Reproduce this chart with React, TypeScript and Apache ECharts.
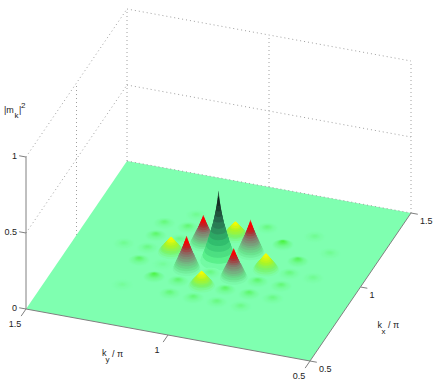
import React, { useEffect, useRef } from "react";
import * as echarts from "echarts";

// axis ticks
const kxTicks = [0.5, 1, 1.5];
const kyTicks = [0.5, 1, 1.5];
const zTicks = [0, 0.5, 1];
const kxTickLabels = ["0.5", "1", "1.5"];
const kyTickLabels = ["0.5", "1", "1.5"];
const zTickLabels = ["0", "0.5", "1"];

// peaks of |m_k|^2
const peakKx = [
  1, 1.083, 1.083, 0.917, 0.917, 1.167, 0.833, 1, 1,
  1.167, 1.167, 1.083, 1, 1, 0.917, 0.833, 0.833, 0.75, 0.75, 0.75, 0.75,
  0.833, 0.833, 0.833, 0.917, 0.917, 1, 1, 1.083, 1.167, 1.25, 1.25, 1.167,
  0.917, 1.25, 0.75, 0.917, 1.083,
];
const peakKy = [
  1, 1.083, 0.917, 1.083, 0.917, 1, 1, 1.167, 0.833,
  1.25, 1.167, 1.25, 1.25, 1.333, 1.25, 1.167, 1.083, 1.083, 1, 0.917, 0.833,
  0.917, 0.833, 0.75, 0.833, 0.75, 0.75, 0.667, 0.75, 0.833, 0.917, 0.75, 0.667,
  1, 1.167, 1.25, 1.167, 1.167,
];
const peakZ = [
  0.5, 0.2, 0.225, 0.225, 0.2, 0.1, 0.1, 0.105, 0.11,
  0.012, 0.014, 0.016, 0.01, 0.007, 0.017, 0.024, 0.015, 0.013, 0.013, 0.011, 0.009,
  0.017, 0.016, 0.01, 0.016, 0.013, 0.011, 0.007, 0.021, 0.026, 0.011, 0.007, 0.007,
  0.011, 0.007, 0.005, 0.005, 0.01,
];

// projection of (kx, ky, z) on the page
const origin = [310, 361];
const kxVector = [101, -148];
const kyVector = [-284, -52];
const zPixels = 152;
const project = (kx: number, ky: number, z: number) => [
  origin[0] + (kx - 0.5) * kxVector[0] + (ky - 0.5) * kyVector[0],
  origin[1] + (kx - 0.5) * kxVector[1] + (ky - 0.5) * kyVector[1] - z * zPixels,
];

const FLOOR: number[] = [127, 255, 176];
type Stop = [number, number[]];
const mixStops = (stops: Stop[], f: number) => {
  for (let i = 1; i < stops.length; i++) {
    if (f <= stops[i][0]) {
      const [a, ca] = stops[i - 1];
      const [b, cb] = stops[i];
      const t = (f - a) / (b - a);
      const c = ca.map((v, j) => Math.round(v + (cb[j] - v) * t));
      return `rgb(${c[0]},${c[1]},${c[2]})`;
    }
  }
  const c = stops[stops.length - 1][1];
  return `rgb(${c[0]},${c[1]},${c[2]})`;
};

const toneFor = (z: number) => {
  if (z >= 0.4)
    return {
      bands: 15, radius: 0.06, power: 1.7,
      stops: [[0, FLOOR], [0.1, [90, 240, 140]], [0.3, [50, 190, 110]], [0.55, [40, 110, 80]], [0.75, [25, 50, 40]], [1, [0, 0, 0]]] as Stop[],
    };
  if (z >= 0.17)
    return {
      bands: 18, radius: 0.046, power: 1.2,
      stops: [[0, FLOOR], [0.15, [105, 225, 140]], [0.35, [120, 165, 125]], [0.5, [135, 115, 105]], [0.65, [175, 45, 50]], [0.8, [250, 0, 0]], [1, [255, 0, 0]]] as Stop[],
    };
  if (z >= 0.08)
    return {
      bands: 12, radius: 0.044, power: 1,
      stops: [[0, FLOOR], [0.25, [120, 245, 110]], [0.55, [170, 245, 40]], [0.85, [240, 250, 5]], [1, [255, 255, 0]]] as Stop[],
    };
  const s = Math.min(1, z / 0.034);
  const top = FLOOR.map((v, j) => v + ([55, 238, 25][j] - v) * s);
  const mid = FLOOR.map((v, j) => v + (top[j] - v) * 0.3);
  return { bands: 10, radius: 0.036, power: 0.9, stops: [[0, FLOOR], [0.5, mid], [1, top]] as Stop[] };
};

const peakRows = peakKx
  .map((kx, i) => [kx, peakKy[i], peakZ[i]])
  .sort((a, b) => project(a[0], a[1], 0)[1] - project(b[0], b[1], 0)[1]);

type Seg = number[];
const lo = kxTicks[0];
const hi = kxTicks[kxTicks.length - 1];
const zTop = zTicks[zTicks.length - 1];
const dottedSegs: Seg[] = [
  ...zTicks.filter((z) => z > 0).map((z) => [lo, hi, z, hi, hi, z]),
  ...zTicks.map((z) => [hi, hi, z, hi, lo, z]),
  ...kxTicks.slice(1).map((kx) => [kx, hi, 0, kx, hi, zTop]),
  ...kyTicks.slice(0, -1).map((ky) => [hi, ky, 0, hi, ky, zTop]),
];
const solidSegs: Seg[] = [
  [lo, hi, 0, lo, hi, zTop],
  [lo, lo, 0, hi, lo, 0],
  [lo, lo, 0, lo, hi, 0],
  ...zTicks.map((z) => [lo, hi, z, lo, hi + 0.024, z]),
  ...kxTicks.map((kx) => [kx, lo, 0, kx, lo - 0.024, 0]),
  ...kyTicks.map((ky) => [lo, ky, 0, lo - 0.048, ky, 0]),
];

const FONT = "Liberation Sans, Arial, sans-serif";
const tickTexts = [
  ...zTicks.map((z, i) => {
    const p = project(lo, hi, z);
    return { t: zTickLabels[i], x: p[0] - 9, y: p[1] - 1, align: "right" };
  }),
  ...kyTicks.map((ky, i) => {
    const p = project(lo, ky, 0);
    return { t: kyTickLabels[i], x: p[0] - 11, y: p[1] + 15, align: "center" };
  }),
  ...kxTicks.map((kx, i) => {
    const p = project(kx, lo, 0);
    return { t: kxTickLabels[i], x: p[0] + 9, y: p[1] + 8, align: "left" };
  }),
];
const titleTexts = [
  { t: "k", x: 102, y: 353, size: 9 },
  { t: "y", x: 105.5, y: 359, size: 8 },
  { t: "/ π", x: 112, y: 354, size: 9 },
  { t: "k", x: 377.5, y: 325, size: 9 },
  { t: "x", x: 381.5, y: 331, size: 8 },
  { t: "/ π", x: 388, y: 325, size: 9 },
  { t: "|m", x: 4, y: 110, size: 9 },
  { t: "k", x: 14.5, y: 115.5, size: 8 },
  { t: "|", x: 19, y: 110, size: 9 },
  { t: "2", x: 21, y: 105, size: 8 },
];

const lineItem = (stroke: string, dash?: number[]) => (_: any, api: any) => {
  const a = api.coord(project(api.value(0), api.value(1), api.value(2)));
  const b = api.coord(project(api.value(3), api.value(4), api.value(5)));
  return {
    type: "line",
    shape: { x1: a[0], y1: a[1], x2: b[0], y2: b[1] },
    style: { stroke, lineWidth: 1, lineDash: dash, fill: null },
  };
};

const floorItem = (_: any, api: any) => ({
  type: "polygon",
  shape: {
    points: [
      [lo, lo], [hi, lo], [hi, hi], [lo, hi],
    ].map(([kx, ky]) => api.coord(project(kx, ky, 0))),
  },
  style: { fill: `rgb(${FLOOR.join(",")})` },
});

const peakItem = (_: any, api: any) => {
  const kx = api.value(0);
  const ky = api.value(1);
  const z = api.value(2);
  const tone = toneFor(z);
  const children: any[] = [];
  // thin slices so that the cone is closed; colour changes band by band
  const slices = Math.max(tone.bands, Math.ceil(z * zPixels * 2));
  for (let b = 0; b < slices; b++) {
    const f = b / slices;
    const r = tone.radius * Math.pow(1 - f, tone.power);
    const pts: number[][] = [];
    for (let k = 0; k < 24; k++) {
      const th = (k / 24) * Math.PI * 2;
      pts.push(api.coord(project(kx + r * Math.cos(th), ky + r * Math.sin(th), z * f)));
    }
    const band = Math.floor(f * tone.bands);
    children.push({
      type: "polygon",
      shape: { points: pts },
      style: { fill: mixStops(tone.stops, (band + 0.5) / tone.bands) },
    });
  }
  return { type: "group", children };
};

const tickTextItem = (params: any, api: any) => {
  const row = tickTexts[params.dataIndex];
  const p = api.coord([row.x, row.y]);
  return {
    type: "text",
    style: { text: row.t, x: p[0], y: p[1], font: `9px ${FONT}`, fill: "#222", align: row.align, verticalAlign: "middle" },
  };
};

const titleTextItem = (params: any, api: any) => {
  const row = titleTexts[params.dataIndex];
  const p = api.coord([row.x, row.y]);
  return {
    type: "text",
    style: { text: row.t, x: p[0], y: p[1], font: `${row.size}px ${FONT}`, fill: "#222", align: "left", verticalAlign: "middle" },
  };
};

const custom = (name: string, z: number, data: any[], renderItem: any) => ({
  type: "custom",
  name,
  z,
  silent: true,
  clip: false,
  coordinateSystem: "cartesian2d",
  data,
  renderItem,
});

export default function App() {
  const ref = useRef<HTMLDivElement>(null);
  useEffect(() => {
    document.body.style.margin = "0";
    const chart = echarts.init(ref.current!, undefined, { renderer: "svg" });
    chart.setOption({
      animation: false,
      backgroundColor: "#fff",
      grid: { left: 0, right: 0, top: 0, bottom: 0 },
      xAxis: { type: "value", min: 0, max: 436, show: false },
      yAxis: { type: "value", min: 0, max: 382, inverse: true, show: false },
      tooltip: { show: false },
      series: [
        custom("walls", 1, dottedSegs.filter((s) => s[2] !== 0 || s[5] !== 0), lineItem("#a0a0a0", [1, 3])),
        custom("floor", 2, [[0]], floorItem),
        custom("floor edge", 3, dottedSegs.filter((s) => s[2] === 0 && s[5] === 0), lineItem("#a0a0a0", [1, 3])),
        custom("|m_k|^2", 4, peakRows, peakItem),
        custom("axes", 5, solidSegs, lineItem("#808080")),
        custom("tick labels", 6, tickTexts.map((_, i) => [i]), tickTextItem),
        custom("axis titles", 6, titleTexts.map((_, i) => [i]), titleTextItem),
      ],
    });
    return () => chart.dispose();
  }, []);
  return <div ref={ref} style={{ width: 436, height: 382 }} />;
}
